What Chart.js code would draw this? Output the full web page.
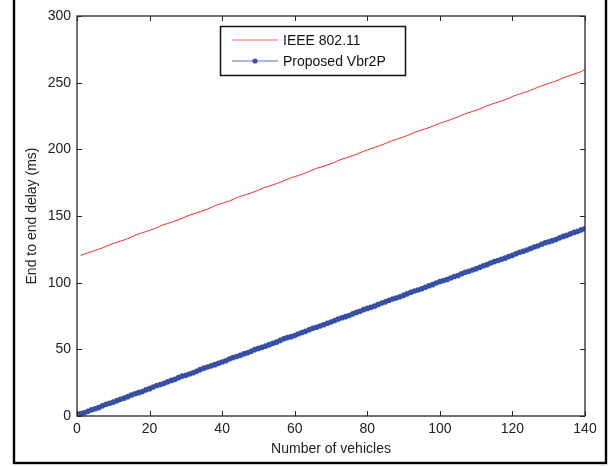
<!DOCTYPE html>
<html>
<head>
<meta charset="utf-8">
<script src="https://cdn.jsdelivr.net/npm/chart.js@4.4.1/dist/chart.umd.min.js"></script>
<style>
  html, body { margin: 0; padding: 0; background: #fff; }
  #wrap { position: relative; width: 614px; height: 466px; }
</style>
</head>
<body>
<div id="wrap"><canvas id="grafico" width="614" height="466"></canvas></div>
<script>
// number of vehicles (x values)
var vehicles = [1,2,3,4,5,6,7,8,9,10,11,12,13,14,15,16,17,18,19,20,
  21,22,23,24,25,26,27,28,29,30,31,32,33,34,35,36,37,38,39,40,
  41,42,43,44,45,46,47,48,49,50,51,52,53,54,55,56,57,58,59,60,
  61,62,63,64,65,66,67,68,69,70,71,72,73,74,75,76,77,78,79,80,
  81,82,83,84,85,86,87,88,89,90,91,92,93,94,95,96,97,98,99,100,
  101,102,103,104,105,106,107,108,109,110,111,112,113,114,115,116,117,118,119,120,
  121,122,123,124,125,126,127,128,129,130,131,132,133,134,135,136,137,138,139,140];

// IEEE 802.11 delay (ms)
var ieeeDelay = [120.3,121.4,122.4,123.3,124.2,125.1,126.1,127.2,128.4,129.4,
  130.3,131.2,132.1,133.1,134.2,135.5,136.6,137.4,138.3,139.2,
  140.2,141.3,142.6,143.6,144.4,145.3,146.2,147.2,148.3,149.5,
  150.6,151.5,152.4,153.3,154.3,155.3,156.4,157.7,158.6,159.4,
  160.3,161.3,162.4,163.6,164.7,165.6,166.4,167.3,168.3,169.4,
  170.6,171.7,172.5,173.4,174.3,175.3,176.4,177.6,178.7,179.5,
  180.4,181.3,182.3,183.5,184.7,185.7,186.5,187.4,188.3,189.3,
  190.4,191.6,192.6,193.5,194.4,195.3,196.3,197.4,198.6,199.6,
  200.5,201.4,202.3,203.3,204.4,205.6,206.6,207.5,208.4,209.3,
  210.3,211.5,212.7,213.6,214.5,215.4,216.3,217.3,218.5,219.6,
  220.5,221.4,222.3,223.3,224.4,225.6,226.6,227.5,228.4,229.3,
  230.3,231.4,232.6,233.6,234.5,235.4,236.3,237.3,238.4,239.6,
  240.6,241.5,242.4,243.3,244.3,245.4,246.6,247.6,248.5,249.4,
  250.3,251.3,252.4,253.6,254.6,255.5,256.4,257.3,258.4,259.8];

// Proposed Vbr2P delay (ms)
var vbr2pDelay = [1.8,2.4,3.5,4.6,5.4,6.3,7.6,8.8,9.6,10.4,
  11.5,12.6,13.4,14.5,15.8,16.7,17.5,18.4,19.6,20.5,
  21.8,22.9,23.6,24.5,25.6,26.7,27.5,28.8,29.9,30.6,
  31.5,32.4,33.6,34.8,35.9,36.7,37.6,38.5,39.6,40.5,
  41.4,42.7,43.8,44.6,45.5,46.6,47.4,48.5,49.8,50.7,
  51.5,52.4,53.5,54.6,55.4,56.7,57.9,58.8,59.5,60.4,
  61.5,62.6,63.5,64.7,65.8,66.6,67.5,68.4,69.6,70.5,
  71.6,72.8,73.7,74.5,75.4,76.6,77.7,78.6,79.8,80.7,
  81.5,82.4,83.6,84.7,85.6,86.8,87.7,88.5,89.4,90.5,
  91.6,92.8,93.7,94.5,95.4,96.6,97.7,98.5,99.7,100.8,
  101.6,102.4,103.5,104.6,105.4,106.7,107.8,108.6,109.5,110.4,
  111.6,112.7,113.5,114.7,115.8,116.6,117.5,118.4,119.6,120.5,
  121.7,122.8,123.6,124.5,125.6,126.7,127.5,128.8,129.9,130.6,
  131.5,132.4,133.6,134.7,135.5,136.6,137.7,138.5,139.6,140.6];

var seriesNames = ["IEEE 802.11", "Proposed Vbr2P"];

var corVermelho = "#f22c2c";
var corAzul = "#3550a6";
var fonte = "'Liberation Sans', Arial, sans-serif";

function pontos(ys) {
  var out = [];
  for (var i = 0; i < vehicles.length; i++) out.push({ x: vehicles[i], y: ys[i] });
  return out;
}

// moldura estilo MATLAB: caixa, ticks para dentro, legenda e borda externa
var molduraPlugin = {
  id: "moldura",
  afterDraw: function (chart) {
    var ctx = chart.ctx;
    var a = chart.chartArea;
    var sx = chart.scales.x, sy = chart.scales.y;
    ctx.save();
    ctx.strokeStyle = "#262626";
    ctx.lineWidth = 1.3;
    ctx.strokeRect(a.left, a.top, a.right - a.left, a.bottom - a.top);
    ctx.lineWidth = 1;
    var tl = 5;
    sx.ticks.forEach(function (t) {
      var px = Math.round(sx.getPixelForValue(t.value)) + 0.5;
      ctx.beginPath();
      ctx.moveTo(px, a.bottom); ctx.lineTo(px, a.bottom - tl);
      ctx.moveTo(px, a.top); ctx.lineTo(px, a.top + tl);
      ctx.stroke();
    });
    sy.ticks.forEach(function (t) {
      var py = Math.round(sy.getPixelForValue(t.value)) + 0.5;
      ctx.beginPath();
      ctx.moveTo(a.left, py); ctx.lineTo(a.left + tl, py);
      ctx.moveTo(a.right, py); ctx.lineTo(a.right - tl, py);
      ctx.stroke();
    });

    // legenda
    var lx = 220, ly = 26, lw = 185, lh = 49;
    ctx.fillStyle = "#fff";
    ctx.fillRect(lx, ly, lw, lh);
    ctx.strokeStyle = "#111";
    ctx.lineWidth = 1.5;
    ctx.strokeRect(lx + 0.5, ly + 0.5, lw, lh);
    var ds = chart.data.datasets;
    var rows = [ly + 14, ly + 35];
    for (var i = 0; i < ds.length; i++) {
      ctx.strokeStyle = i === 0 ? "#f06a6a" : "#5a70b8";
      ctx.lineWidth = 1.2;
      ctx.beginPath();
      ctx.moveTo(lx + 12, rows[i]); ctx.lineTo(lx + 58, rows[i]);
      ctx.stroke();
      if (i === 1) {
        ctx.fillStyle = corAzul;
        ctx.beginPath();
        ctx.arc(lx + 35, rows[i], 2.6, 0, Math.PI * 2);
        ctx.fill();
      }
      ctx.fillStyle = "#111";
      ctx.font = "14px " + fonte;
      ctx.textBaseline = "middle";
      ctx.textAlign = "left";
      ctx.fillText(ds[i].label, lx + 63, rows[i] + 1);
    }

    // borda externa (topo fica fora da imagem)
    ctx.strokeStyle = "#000";
    ctx.lineWidth = 2.4;
    ctx.strokeRect(14, -5, 592, 468);
    ctx.restore();
  }
};

function init() {
  var ctx = document.getElementById("grafico").getContext("2d");
  new Chart(ctx, {
    type: "line",
    data: {
      datasets: [
        { label: seriesNames[0], data: pontos(ieeeDelay), borderColor: corVermelho,
          borderWidth: 1, pointRadius: 0, fill: false, tension: 0 },
        { label: seriesNames[1], data: pontos(vbr2pDelay), borderColor: corAzul,
          backgroundColor: corAzul, borderWidth: 1, pointRadius: 2.8,
          pointBorderWidth: 0, pointBackgroundColor: corAzul, fill: false, tension: 0 }
      ]
    },
    options: {
      responsive: false,
      animation: false,
      layout: { padding: { left: 24, top: 16, right: 29, bottom: 8 } },
      plugins: { legend: { display: false }, tooltip: { enabled: false } },
      scales: {
        x: {
          type: "linear", min: 0, max: 140,
          grid: { display: false, drawTicks: false },
          border: { display: false },
          ticks: { stepSize: 20, color: "#222", font: { family: fonte, size: 14 }, padding: 5, maxRotation: 0 },
          title: { display: true, text: "Number of vehicles", color: "#222", font: { family: fonte, size: 14 }, padding: 0 },
          afterFit: function (s) { s.height = 42; }
        },
        y: {
          type: "linear", min: 0, max: 300,
          grid: { display: false, drawTicks: false },
          border: { display: false },
          ticks: { stepSize: 50, color: "#222", font: { family: fonte, size: 14 }, padding: 6 },
          title: { display: true, text: "End to end delay (ms)", color: "#222", font: { family: fonte, size: 14 }, padding: 0 },
          afterFit: function (s) { s.width = 53; }
        }
      }
    },
    plugins: [molduraPlugin]
  });
}
window.addEventListener("DOMContentLoaded", init);
</script>
</body>
</html>
